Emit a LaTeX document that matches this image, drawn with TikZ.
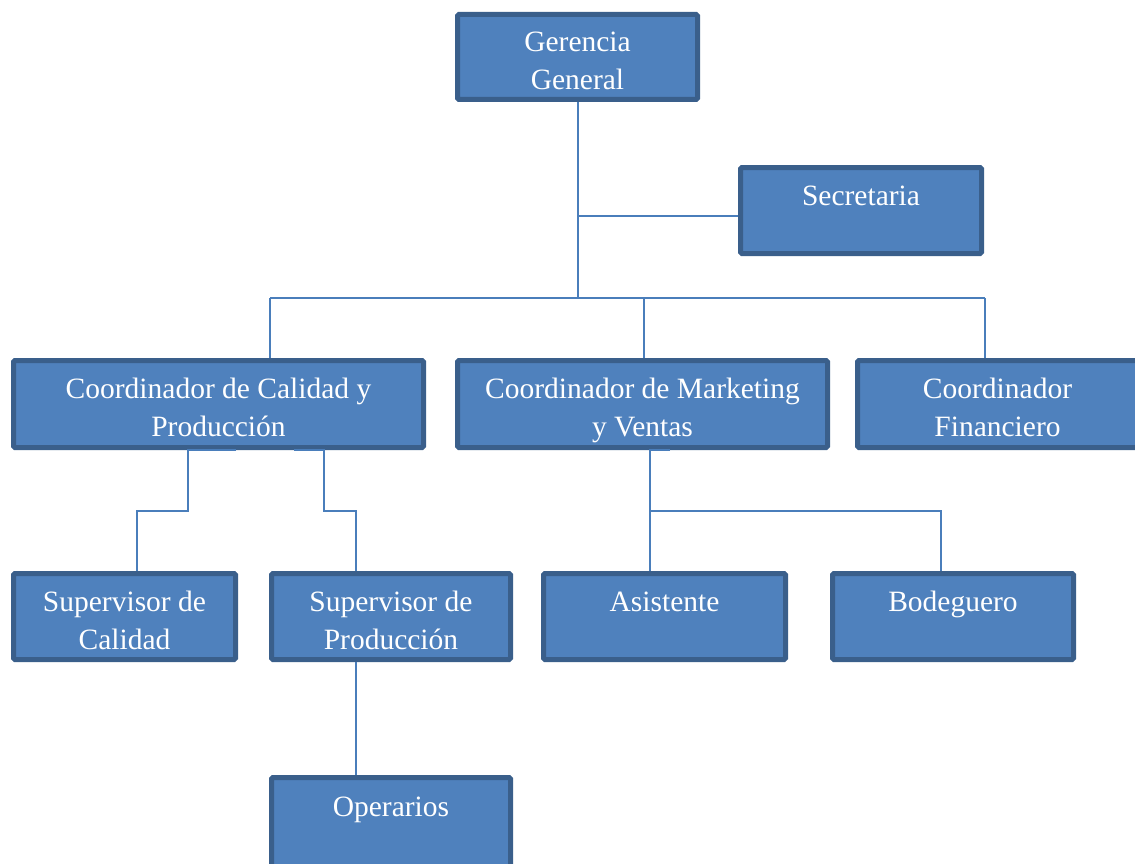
\documentclass[tikz,border=0pt]{standalone}
\usepackage{fontspec}
\setmainfont{Liberation Serif}
\definecolor{boxfill}{HTML}{4F81BD}
\definecolor{boxedge}{HTML}{3A5F8B}
\definecolor{conn}{HTML}{4A7EBB}
\tikzset{
  box/.style={draw=boxedge, fill=boxfill, line width=5pt, rounded corners=1.5pt, inner sep=0pt},
  lbl/.style={text=white, font=\fontsize{29.5}{38}\selectfont, align=center, anchor=base, inner sep=0pt},
  conline/.style={draw=conn, line width=1.6pt}
}
\begin{document}
\begin{tikzpicture}[x=1pt,y=-1pt]
\useasboundingbox (0,0) rectangle (1135,864);
% boxes
\node[box, minimum width=240, minimum height=85] (g) at (577.5,57) {};
\node[box, minimum width=241, minimum height=86] (sec) at (861,210.5) {};
\node[box, minimum width=410, minimum height=87] (cq) at (218.5,404) {};
\node[box, minimum width=370, minimum height=87] (cm) at (642.5,404) {};
\node[box, minimum width=280, minimum height=87] (cf) at (997.5,404) {};
\node[box, minimum width=222, minimum height=86] (sc) at (124.5,616.5) {};
\node[box, minimum width=239, minimum height=86] (sp) at (391,616.5) {};
\node[box, minimum width=242, minimum height=86] (as) at (664.5,616.5) {};
\node[box, minimum width=241, minimum height=86] (bo) at (953,616.5) {};
\node[box, minimum width=239, minimum height=100] (op) at (391,827.5) {};
% labels (base anchor = last line baseline)
\node[lbl] (tg) at (577.5,90) {Gerencia\\General};
\node[lbl] (tsec) at (861,205) {Secretaria};
\node[lbl] (tcq) at (218.5,436) {Coordinador de Calidad y\\Producción};
\node[lbl] (tcm) at (642.5,436) {Coordinador de Marketing\\y Ventas};
\node[lbl] (tcf) at (997.5,436) {Coordinador\\Financiero};
\node[lbl] (tsc) at (124.5,649) {Supervisor de\\Calidad};
\node[lbl] (tsp) at (391,649) {Supervisor de\\Producción};
\node[lbl] (tas) at (664.5,611) {Asistente};
\node[lbl] (tbo) at (953,611) {Bodeguero};
\node[lbl] (top) at (391,816) {Operarios};
% connector coordinates
\coordinate (trunk) at (578,298);
\coordinate (b1) at (270,298);
\coordinate (b2) at (644,298);
\coordinate (b3) at (985,298);
\coordinate (q1) at (188,511);
\coordinate (q1s) at (236,450);
\coordinate (q2) at (324,511);
\coordinate (q2s) at (294,450);
\coordinate (m1) at (650,511);
\coordinate (m1s) at (670,450);
\coordinate (m2) at (941,511);
% connectors
\draw[conline] (g.south -| trunk) -- (trunk);
\draw[conline] (sec.west) ++(0,5.5) -- (trunk |- 0,216);
\draw[conline] (b1) -- (b3);
\draw[conline] (b1) -- (b1 |- cq.north);
\draw[conline] (b2) -- (b2 |- cm.north);
\draw[conline] (b3) -- (b3 |- cf.north);
\draw[conline] (q1s) -- (q1 |- q1s) -- (q1) -- (137,511) -- (137,571);
\draw[conline] (q2s) -- (q2 |- q2s) -- (q2) -- (356,511) -- (356,571);
\draw[conline] (m1s) -- (m1 |- m1s) -- (m1) -- (m1 |- as.north);
\draw[conline] (m1) -- (m2) -- (m2 |- bo.north);
\draw[conline] (sp.south -| 356,0) -- (op.north -| 356,0);
\end{tikzpicture}
\end{document}
